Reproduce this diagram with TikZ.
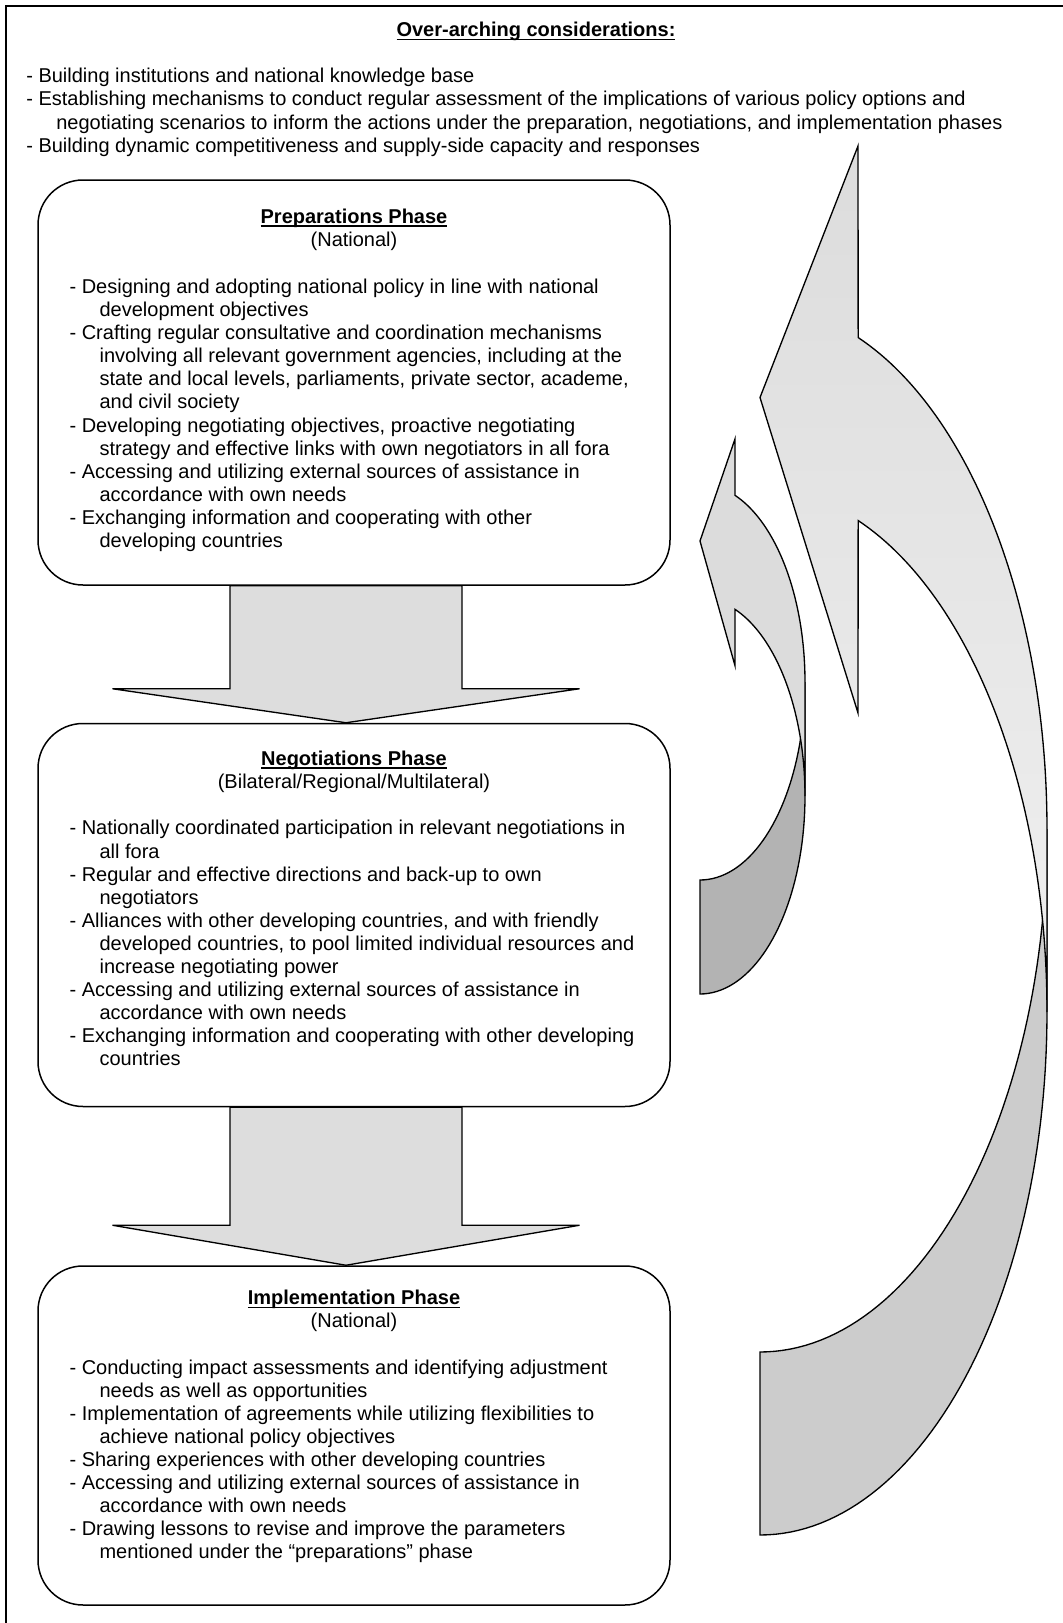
\documentclass[tikz,border=0pt]{standalone}
\usepackage{fontspec}
\setmainfont{Liberation Sans}
\usetikzlibrary{positioning,calc}

\definecolor{arrowgray}{HTML}{DDDDDD}
\definecolor{backgray}{HTML}{CCCCCC}
\definecolor{backdark}{HTML}{B3B3B3}
\definecolor{frontlight}{HTML}{DCDCDC}
\definecolor{frontpale}{HTML}{F0F0F0}

\newcommand{\cont}{\hspace*{18pt}}
\newsavebox{\headbox}
\newcommand{\headline}[1]{\sbox{\headbox}{\textbf{#1}}\rlap{\rule[-2.1pt]{\wd\headbox}{0.9pt}}\usebox{\headbox}}

\begin{document}
\begin{tikzpicture}[x=0.6pt,y=-0.6pt]
    \tikzset{
        box/.style = {rectangle, draw, line width=0.9pt, rounded corners=27pt, minimum width=379.2pt, inner sep=0pt},
        head/.style = {align=center, inner sep=0pt, font=\fontsize{12}{13.86}\selectfont},
        list/.style = {align=left, inner sep=0pt, anchor=north west, font=\fontsize{12}{13.86}\selectfont},
        blockarrow/.style = {draw, line width=0.8pt, fill=arrowgray},
        backband/.style = {draw, line width=0.8pt, fill=backgray},
        frontband/.style = {draw, line width=0.8pt, top color=frontlight, bottom color=frontpale},
        smallback/.style = {draw, line width=0.8pt, fill=backdark},
        smallfront/.style = {draw, line width=0.8pt, fill=frontlight},
        frame/.style = {draw, line width=1.4pt},
    }
    \useasboundingbox (0,0) rectangle (1063,1623);

    % outer frame, cut off at right and bottom
    \draw[frame] (1063,6) -- (6,6) -- (6,1623);

    \node[head, anchor=north](overhead) at (536,22){\headline{Over-arching considerations:}};
    \node[list](overlist) at (26,68){- Building institutions and national knowledge base\\
        - Establishing mechanisms to conduct regular assessment of the implications of various policy options and\\
        \cont negotiating scenarios to inform the actions under the preparation, negotiations, and implementation phases\\
        - Building dynamic competitiveness and supply-side capacity and responses};

    % phase boxes
    \node[box, minimum height=243pt](prep) at (354,382.5){};
    \node[box, minimum height=229.8pt](nego)[below = 82.2pt of prep]{};
    \node[box, minimum height=203.4pt](impl)[below = 94.8pt of nego]{};

    \node[head](prephead)[below = 17.4pt of prep.north]{\headline{Preparations Phase}\\(National)};
    \node[list](preplist)[below right = 59.6pt and 19.2pt of prep.north west]{- Designing and adopting national policy in line with national\\
        \cont development objectives\\
        - Crafting regular consultative and coordination mechanisms\\
        \cont involving all relevant government agencies, including at the\\
        \cont state and local levels, parliaments, private sector, academe,\\
        \cont and civil society\\
        - Developing negotiating objectives, proactive negotiating\\
        \cont strategy and effective links with own negotiators in all fora\\
        - Accessing and utilizing external sources of assistance in\\
        \cont accordance with own needs\\
        - Exchanging information and cooperating with other\\
        \cont developing countries};

    \node[head](negohead)[below = 16.5pt of nego.north]{\headline{Negotiations Phase}\\(Bilateral/Regional/Multilateral)};
    \node[list](negolist)[below right = 58.4pt and 19.2pt of nego.north west]{- Nationally coordinated participation in relevant negotiations in\\
        \cont all fora\\
        - Regular and effective directions and back-up to own\\
        \cont negotiators\\
        - Alliances with other developing countries, and with friendly\\
        \cont developed countries, to pool limited individual resources and\\
        \cont increase negotiating power\\
        - Accessing and utilizing external sources of assistance in\\
        \cont accordance with own needs\\
        - Exchanging information and cooperating with other developing\\
        \cont countries};

    \node[head](implhead)[below = 14.8pt of impl.north]{\headline{Implementation Phase}\\(National)};
    \node[list](impllist)[below right = 56.4pt and 19.2pt of impl.north west]{- Conducting impact assessments and identifying adjustment\\
        \cont needs as well as opportunities\\
        - Implementation of agreements while utilizing flexibilities to\\
        \cont achieve national policy objectives\\
        - Sharing experiences with other developing countries\\
        - Accessing and utilizing external sources of assistance in\\
        \cont accordance with own needs\\
        - Drawing lessons to revise and improve the parameters\\
        \cont mentioned under the ``preparations'' phase};

    % block arrows between the phases
    \draw[blockarrow] ($(prep.south)+(-124,0)$) -- ($(nego.north)+(-124,-34)$) -- ($(nego.north)+(-241.5,-34)$)
        -- ($(nego.north)+(-8,0)$) -- ($(nego.north)+(225.5,-34)$) -- ($(nego.north)+(108,-34)$)
        -- ($(prep.south)+(108,0)$) -- cycle;
    \draw[blockarrow] ($(nego.south)+(-124,0)$) -- ($(impl.north)+(-124,-40)$) -- ($(impl.north)+(-241.5,-40)$)
        -- ($(impl.north)+(-8,0)$) -- ($(impl.north)+(225.5,-40)$) -- ($(impl.north)+(108,-40)$)
        -- ($(nego.south)+(108,0)$) -- cycle;

    % big curved arrow back to the preparations phase
    \draw[backband] (1047,1012)
        -- plot[domain=0:90, samples=60] ({760+287*cos(\x)}, {1012+523*sin(\x)})
        -- (760,1352)
        -- plot[domain=90:0, samples=60] ({760+287*cos(\x)}, {829+523*sin(\x)})
        -- cycle;
    \draw[frontband] (1047,1012)
        -- plot[domain=0:-70, samples=60] ({760+287*cos(\x)}, {1012+523*sin(\x)})
        -- (858,713) -- (760,397.5) -- (858,146)
        -- plot[domain=-70:0, samples=60] ({760+287*cos(\x)}, {829+523*sin(\x)})
        -- cycle;

    % small curved arrow back to the preparations phase
    \draw[smallback] (805,796)
        -- plot[domain=0:90, samples=40] ({700+105*cos(\x)}, {796+198*sin(\x)})
        -- (700,880)
        -- plot[domain=90:0, samples=40] ({700+105*cos(\x)}, {682+198*sin(\x)})
        -- cycle;
    \draw[smallfront] (805,796)
        -- plot[domain=0:-70.5, samples=40] ({700+105*cos(\x)}, {796+198*sin(\x)})
        -- (735,665.7) -- (700,541) -- (735,438.9)
        -- plot[domain=-70.5:0, samples=40] ({700+105*cos(\x)}, {682+198*sin(\x)})
        -- cycle;

\end{tikzpicture}
\end{document}
